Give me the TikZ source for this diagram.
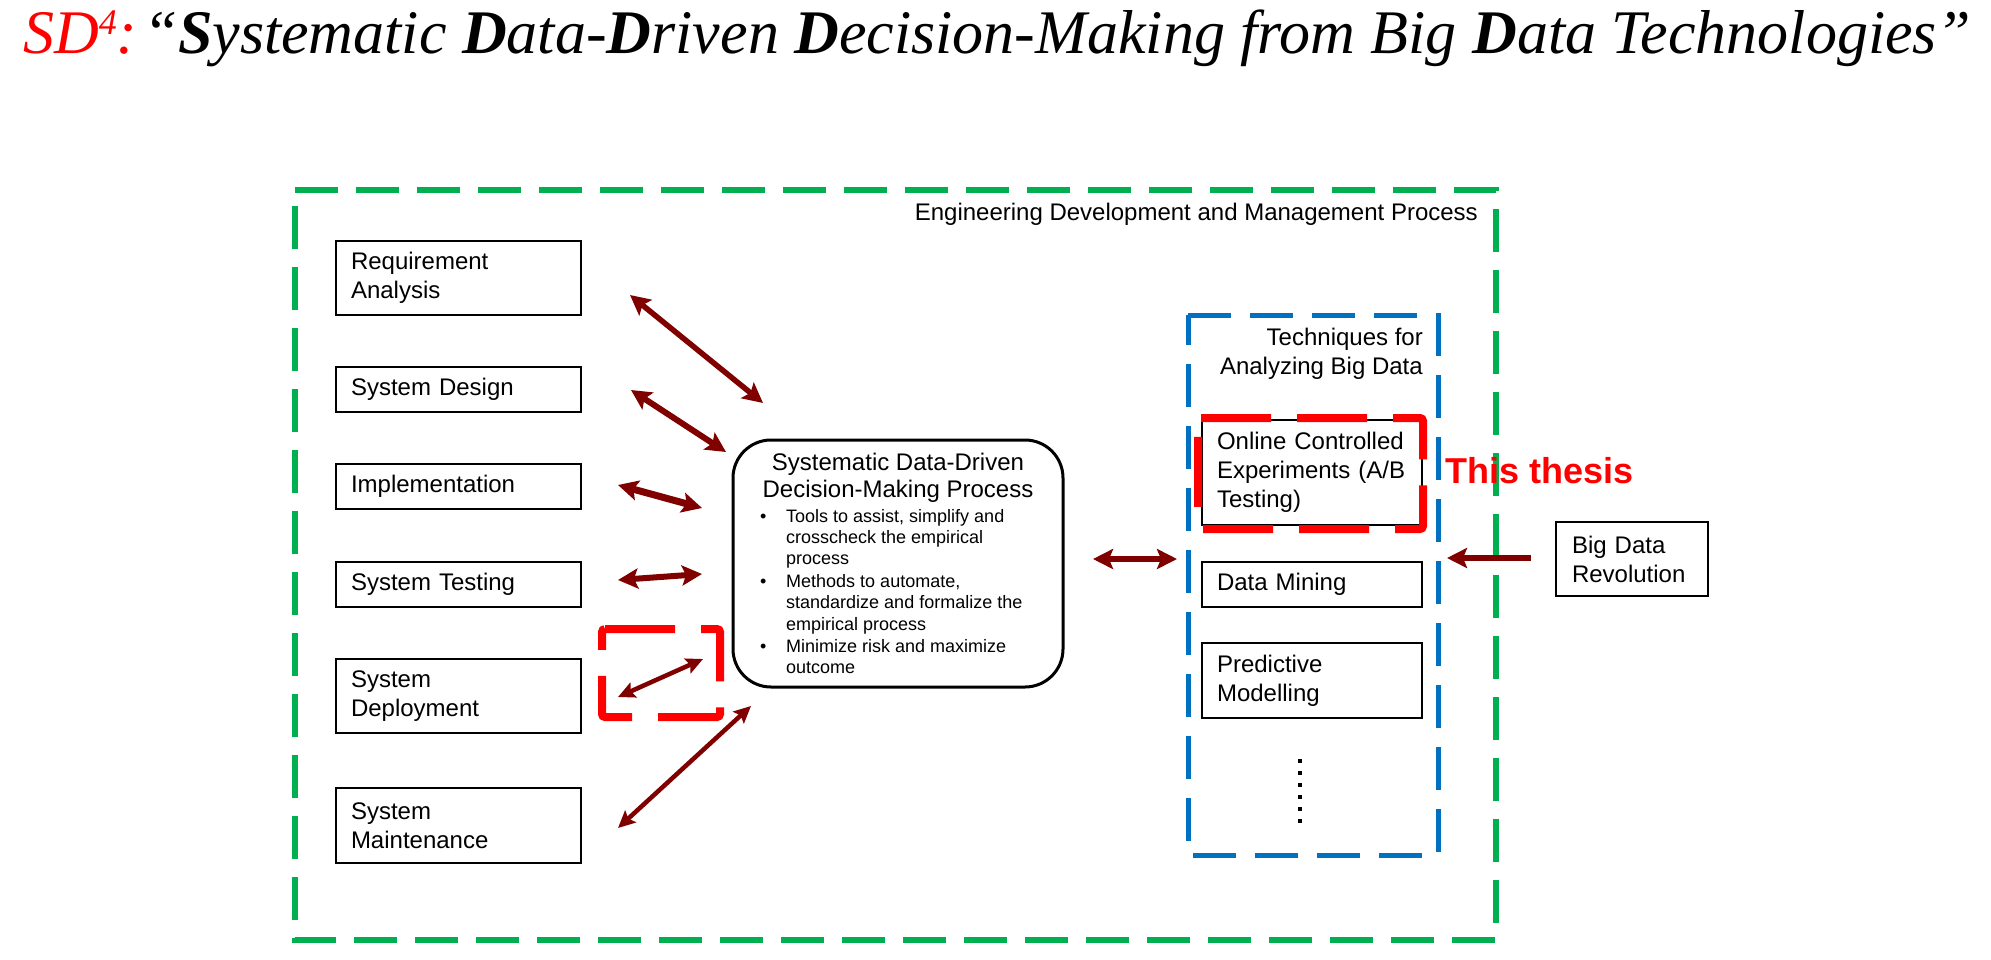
\documentclass[tikz,border=0pt]{standalone}
\usepackage{fontspec}
\setmainfont{Liberation Sans}
\newfontfamily\titlefont{Liberation Serif}
\usetikzlibrary{arrows.meta}
\definecolor{arrowred}{RGB}{128,0,0}
\definecolor{pgreen}{RGB}{0,176,80}
\definecolor{pblue}{RGB}{0,112,192}
\definecolor{pred}{RGB}{255,0,0}
\begin{document}
\begin{tikzpicture}[x=1pt,y=-1pt,
  txt/.style={inner sep=0pt, font=\fontsize{24}{29}\selectfont},
  btxt/.style={inner sep=0pt, font=\fontsize{18}{21.5}\selectfont, anchor=base west},
  lbox/.style={draw=black, line width=1.8pt, fill=white, inner xsep=15pt, inner ysep=0pt,
    align=left, font=\fontsize{24}{29}\selectfont, text width=215pt, minimum width=245pt},
  rbox/.style={lbox, text width=190pt, minimum width=220pt},
  dra/.style={draw=arrowred, line width=6pt,
    arrows={Stealth[length=20pt,width=20pt,inset=4pt]-Stealth[length=20pt,width=20pt,inset=4pt]}},
  dras/.style={draw=arrowred, line width=4.5pt,
    arrows={Stealth[length=17pt,width=16pt,inset=3pt]-Stealth[length=17pt,width=16pt,inset=3pt]}},
  sra/.style={draw=arrowred, line width=6pt,
    arrows={-Stealth[length=20pt,width=20pt,inset=4pt]}},
  greendash/.style={draw=pgreen, line width=5.5pt, dash pattern=on 43pt off 18pt},
  bluedash/.style={draw=pblue, line width=5pt, dash pattern=on 43pt off 19pt},
  reddash/.style={draw=pred, line width=8pt, dash pattern=on 70pt off 26pt, rounded corners=3pt}
]
\useasboundingbox[fill=white] (0,0) rectangle (1991,959);

% title
\node[anchor=base west, inner sep=0pt, font=\titlefont\itshape\fontsize{62}{62}\selectfont] (title) at (23,53)
  {\textcolor{pred}{SD\raisebox{19pt}{\fontsize{36}{36}\selectfont 4}:}\hspace{6pt}“\textbf{S}ystematic \textbf{D}ata-\textbf{D}riven \textbf{D}ecision-Making from Big \textbf{D}ata Technologies”};

% outer green dashed frame
\draw[greendash] (295,190) -- (1496,190) -- (1496,940) -- (295,940) -- cycle;
\node[txt, anchor=base east] (eng) at (1478,220) {Engineering Development and Management Process};

% blue dashed frame
\draw[bluedash] (1188,315) -- (1438,315) -- (1438,855) -- (1188,855) -- cycle;
\node[txt, anchor=base east] (tech1) at (1423,345) {Techniques for};
\node[txt, anchor=base east] (tech2) at (1423,374) {Analyzing Big Data};

% left boxes
\node[lbox, minimum height=74pt] (ra) at (458.5,278) {Requirement\\Analysis};
\node[lbox, minimum height=45pt] (sdes) at (458.5,389.5) {System Design};
\node[lbox, minimum height=45pt] (impl) at (458.5,486.5) {Implementation};
\node[lbox, minimum height=45pt] (test) at (458.5,584.5) {System Testing};
\node[lbox, minimum height=74pt] (dep) at (458.5,696) {System\\Deployment};
\node[lbox, minimum height=75pt] (maint) at (458.5,825.5) {System\\Maintenance};

% central box
\node[draw=black, line width=3pt, fill=white, rounded corners=38pt, minimum width=330pt, minimum height=247pt] (sd) at (898,563.5) {};
\node[txt, anchor=base] (h1) at (898,470) {Systematic Data-Driven};
\node[txt, anchor=base] (h2) at (898,497) {Decision-Making Process};
\node[btxt] (bu1) at (760,522) {•};
\node[btxt] (l1) at (786,522) {Tools to assist, simplify and};
\node[btxt] (l2) at (786,543) {crosscheck the empirical};
\node[btxt] (l3) at (786,564) {process};
\node[btxt] (bu2) at (760,587) {•};
\node[btxt] (l4) at (786,587) {Methods to automate,};
\node[btxt] (l5) at (786,608) {standardize and formalize the};
\node[btxt] (l6) at (786,630) {empirical process};
\node[btxt] (bu3) at (760,652) {•};
\node[btxt] (l7) at (786,652) {Minimize risk and maximize};
\node[btxt] (l8) at (786,673) {outcome};

% right boxes
\node[rbox, minimum height=105pt] (oce) at (1312,472.5) {Online Controlled\\Experiments (A/B\\Testing)};
\node[rbox, minimum height=45pt] (dm) at (1312,584.5) {Data Mining};
\node[rbox, minimum height=75pt] (pm) at (1312,680.5) {Predictive\\Modelling};
\coordinate (dot1) at (1300,759);
\coordinate (dot2) at (1300,825);
\draw[line width=4pt, dash pattern=on 4pt off 8pt] (dot1) -- (dot2);

\node[lbox, text width=120pt, inner xsep=16pt, minimum width=152pt, minimum height=74pt] (bdr) at (1632,559) {Big Data\\Revolution};

% red highlight boxes
\draw[reddash] (1198,418) -- (1423,418) -- (1423,529) -- (1198,529) -- cycle;
\draw[reddash] (602,629) -- (720,629) -- (720,717) -- (602,717) -- cycle;
\node[inner sep=0pt, anchor=base west, text=pred, font=\bfseries\fontsize{36}{36}\selectfont] (thesis) at (1445,483) {This thesis};

% arrows
\coordinate (a1s) at (630,295); \coordinate (a1e) at (763,403);
\coordinate (a2s) at (631,390); \coordinate (a2e) at (726,452);
\coordinate (a3s) at (618,485); \coordinate (a3e) at (702,508);
\coordinate (a4s) at (618,580); \coordinate (a4e) at (702,574);
\coordinate (a5s) at (618,697); \coordinate (a5e) at (703,659);
\coordinate (a6s) at (618,828); \coordinate (a6e) at (751,706);
\coordinate (a7s) at (1093,559); \coordinate (a7e) at (1177,559);
\coordinate (a8s) at (1531,558); \coordinate (a8e) at (1447,558);
\draw[dra, line width=5.5pt] (a1s) -- (a1e);
\draw[dra] (a2s) -- (a2e);
\draw[dra, line width=7pt] (a3s) -- (a3e);
\draw[dra] (a4s) -- (a4e);
\draw[dras] (a5s) -- (a5e);
\draw[dras] (a6s) -- (a6e);
\draw[dra] (a7s) -- (a7e);
\draw[sra] (a8s) -- (a8e);
\end{tikzpicture}
\end{document}
